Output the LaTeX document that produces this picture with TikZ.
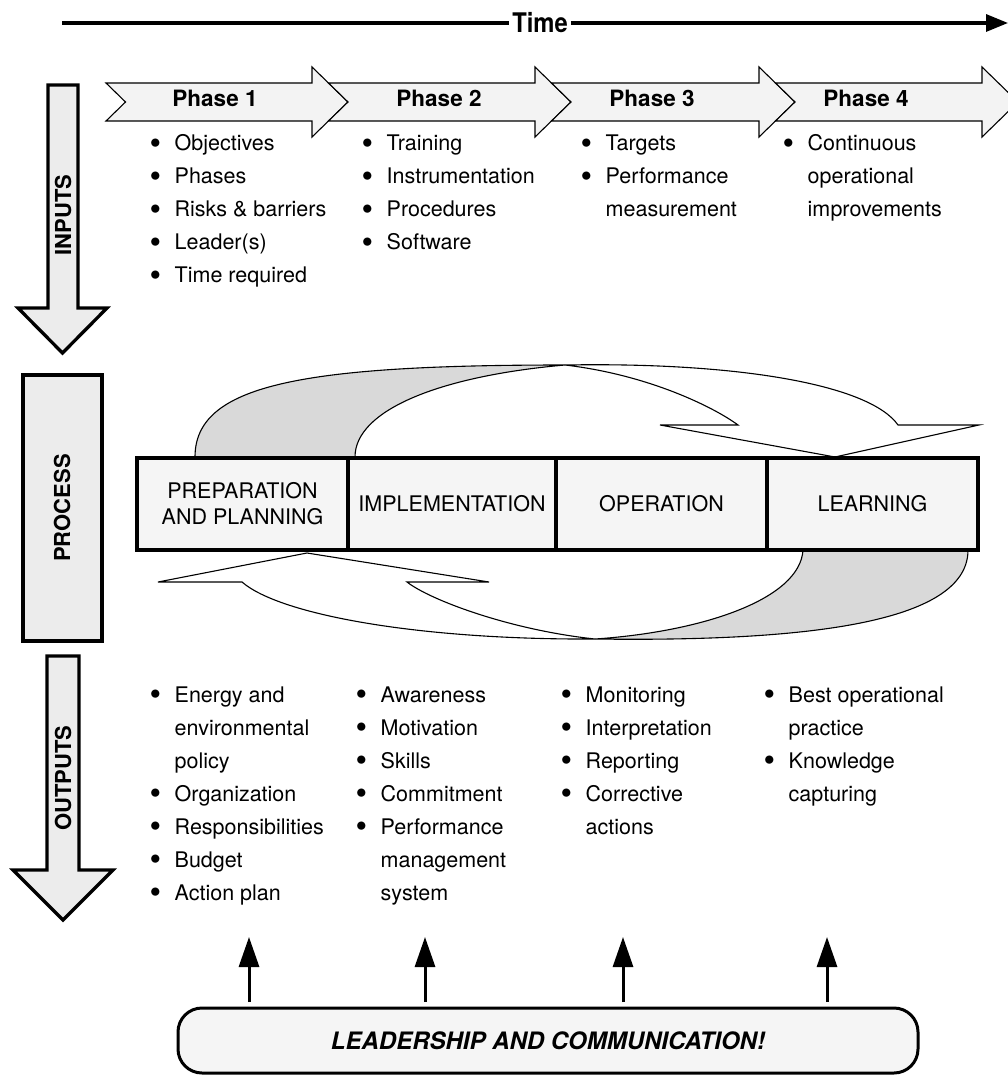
\documentclass[tikz,border=0pt]{standalone}
\usepackage{fontspec}
\usepackage{graphicx}
\setmainfont{TeX Gyre Heros}
\usetikzlibrary{arrows.meta}
\definecolor{phasefill}{HTML}{F3F3F3}
\definecolor{boxfill}{HTML}{F5F5F5}
\definecolor{bigarrowfill}{HTML}{ECECEC}
\definecolor{twistgray}{HTML}{D9D9D9}
\newcommand\txtfont{\fontsize{21.5}{33}\selectfont}
\newcommand\bigbullet{\hspace*{-2pt}\raisebox{-3.2pt}{\fontsize{33}{33}\selectfont\textbullet}}
\newcommand\bitem[1]{\makebox[23pt][l]{\bigbullet}#1}
\newcommand\bcont[1]{\hspace*{23pt}#1}
\newcommand\phasearr[2]{%
  \draw[phasearrow] (#1,83) -- (#2-36,83) -- (#2-36,67) -- (#2,102) -- (#2-36,137) -- (#2-36,121) -- (#1,121) -- (#1+19.5,102) -- cycle;}
\begin{document}
\begin{tikzpicture}[x=1pt,y=-1pt,
  phasearrow/.style={draw=black,line width=1.1pt,fill=phasefill,line join=miter},
  bigarrow/.style={draw=black,line width=3.3pt,fill=bigarrowfill,line join=miter},
  twistline/.style={draw=black,line width=1.1pt},
  listcol/.style={anchor=base west,inner sep=0pt,font=\txtfont},
  phaselabel/.style={anchor=base,inner sep=0pt,font=\fontsize{22.5}{26}\selectfont\bfseries},
  sidelabel/.style={rotate=90,inner sep=0pt,font=\fontsize{22}{26}\selectfont\bfseries},
  cellbox/.style={draw=black,line width=3.2pt,fill=boxfill},
  celltext/.style={inner sep=0pt,font=\fontsize{21.5}{26}\selectfont,align=center},
  uparrow/.style={line width=3pt,-{Triangle[length=30pt,width=20pt]}},
]
\useasboundingbox (0,0) rectangle (1008,1075);
\clip (0,0) rectangle (1008,1075);

% ---- time arrow
\coordinate (tstart) at (62,23);
\coordinate (tend) at (1008,23);
\node[inner xsep=3pt,inner ysep=0pt,font=\fontsize{27}{30}\selectfont\bfseries] (time) at (540,23) {\scalebox{0.88}[1]{Time}};
\draw[line width=3.2pt] (tstart) -- (time.west);
\draw[line width=3.2pt,-{Triangle[length=22pt,width=17pt]}] (time.east) -- (tend);

% ---- phase arrows
\phasearr{106}{348}
\phasearr{328.5}{571}
\phasearr{551.5}{795}
\phasearr{775.5}{1018}
\node[phaselabel] (ph1) at (215,107) {Phase 1};
\node[phaselabel] (ph2) at (439,107) {Phase 2};
\node[phaselabel] (ph3) at (652,107) {Phase 3};
\node[phaselabel] (ph4) at (866,107) {Phase 4};

% ---- side arrows and box
\draw[bigarrow] (48,85) -- (78,85) -- (78,308) -- (107,308) -- (62.5,353) -- (18,308) -- (48,308) -- cycle;
\node[sidelabel] (inputs) at (63,215) {INPUTS};
\draw[bigarrow] (23,375) rectangle (102,641);
\node[sidelabel] (process) at (62,508) {PROCESS};
\draw[bigarrow] (47,656) -- (79,656) -- (79,870) -- (113,870) -- (63,920) -- (13,870) -- (47,870) -- cycle;
\node[sidelabel] (outputs) at (63,778) {OUTPUTS};

% ---- curved arrows (top)
\draw[twistline,fill=twistgray] (195,457) .. controls (195,385) and (300,365) .. (565,365)
   .. controls (440,376) and (355,410) .. (355,457) -- cycle;
\draw[twistline,fill=white] (565,365) .. controls (740,362) and (870,385) .. (898,425)
   -- (979,425) -- (835,457) -- (660,425) -- (738,425)
   .. controls (715,408) and (650,375) .. (565,365) -- cycle;
% ---- curved arrows (bottom)
\draw[twistline,fill=twistgray] (803,550) .. controls (800,600) and (700,632) .. (595,639)
   .. controls (820,642) and (968,620) .. (968,550) -- cycle;
\draw[twistline,fill=white] (595,639) .. controls (420,640) and (280,615) .. (242,582)
   -- (158,582) -- (307,553) -- (489,582) -- (407,582)
   .. controls (430,600) and (510,630) .. (595,639) -- cycle;

% ---- process bar
\draw[cellbox] (137,458) rectangle (978,550);
\draw[line width=3.2pt] (348,458) -- (348,550);
\draw[line width=3.2pt] (556,458) -- (556,550);
\draw[line width=3.2pt] (767,458) -- (767,550);
\node[celltext] (prep) at (242.5,503.5) {PREPARATION\\AND PLANNING};
\node[celltext] (impl) at (452,503.5) {IMPLEMENTATION};
\node[celltext] (oper) at (661.5,503.5) {OPERATION};
\node[celltext] (lear) at (872.5,503.5) {LEARNING};

% ---- input lists
\node[listcol] (in1) at (151.5,151) {\begin{tabular}[t]{@{}l@{}}\bitem{Objectives}\\\bitem{Phases}\\\bitem{Risks \& barriers}\\\bitem{Leader(s)}\\\bitem{Time required}\end{tabular}};
\node[listcol] (in2) at (363.5,151) {\begin{tabular}[t]{@{}l@{}}\bitem{Training}\\\bitem{Instrumentation}\\\bitem{Procedures}\\\bitem{Software}\end{tabular}};
\node[listcol] (in3) at (582.5,151) {\begin{tabular}[t]{@{}l@{}}\bitem{Targets}\\\bitem{Performance}\\\bcont{measurement}\end{tabular}};
\node[listcol] (in4) at (784.5,151) {\begin{tabular}[t]{@{}l@{}}\bitem{Continuous}\\\bcont{operational}\\\bcont{improvements}\end{tabular}};

% ---- output lists
\node[listcol] (out1) at (151.5,702) {\begin{tabular}[t]{@{}l@{}}\bitem{Energy and}\\\bcont{environmental}\\\bcont{policy}\\\bitem{Organization}\\\bitem{Responsibilities}\\\bitem{Budget}\\\bitem{Action plan}\end{tabular}};
\node[listcol] (out2) at (357.5,702) {\begin{tabular}[t]{@{}l@{}}\bitem{Awareness}\\\bitem{Motivation}\\\bitem{Skills}\\\bitem{Commitment}\\\bitem{Performance}\\\bcont{management}\\\bcont{system}\end{tabular}};
\node[listcol] (out3) at (562.5,702) {\begin{tabular}[t]{@{}l@{}}\bitem{Monitoring}\\\bitem{Interpretation}\\\bitem{Reporting}\\\bitem{Corrective}\\\bcont{actions}\end{tabular}};
\node[listcol] (out4) at (765.5,702) {\begin{tabular}[t]{@{}l@{}}\bitem{Best operational}\\\bcont{practice}\\\bitem{Knowledge}\\\bcont{capturing}\end{tabular}};

% ---- leadership pill and arrows
\node[draw=black,line width=3pt,fill=boxfill,rounded corners=24pt,minimum width=740pt,minimum height=65pt,inner sep=0pt,
      font=\fontsize{24}{28}\selectfont\bfseries\itshape] (pill) at (548,1040.5) {LEADERSHIP AND COMMUNICATION!};
\foreach \i/\xx in {1/249,2/425,3/623,4/827}{
  \coordinate (ab\i) at (\xx,1002);
  \coordinate (at\i) at (\xx,937);
  \draw[uparrow] (ab\i) -- (at\i);
}
\end{tikzpicture}
\end{document}
